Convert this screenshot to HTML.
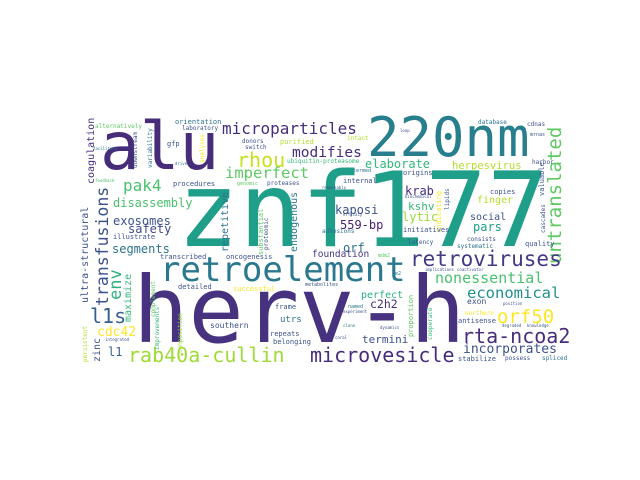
<!DOCTYPE html>
<html><head><meta charset="utf-8"><style>
html,body{margin:0;padding:0;background:#fff;width:640px;height:480px;overflow:hidden}
#c{position:relative;width:640px;height:480px}
#c span{position:absolute;font-family:"DejaVu Sans Mono","Liberation Mono",monospace;line-height:1;white-space:nowrap}
#c span.v{transform-origin:0 0;transform:rotate(-90deg)}
</style></head><body><div id="c">
<span style="left:177px;top:160px;font-size:103px;color:#1f9e89">znf177</span>
<span style="left:133px;top:265px;font-size:92px;color:#46327e">herv-h</span>
<span style="left:100px;top:114px;font-size:66px;color:#472c7a">alu</span>
<span style="left:367px;top:111px;font-size:54px;color:#277f8e">220nm</span>
<span style="left:160px;top:253px;font-size:34px;color:#2a788e">retroelement</span>
<span style="left:222px;top:121px;font-size:16px;color:#472d7b">microparticles</span>
<span style="left:237px;top:150px;font-size:20px;color:#c8e020">rhou</span>
<span style="left:292px;top:146px;font-size:14.5px;color:#472d7b">modifies</span>
<span style="left:225px;top:166px;font-size:15.5px;color:#5ec962">imperfect</span>
<span style="left:123px;top:178px;font-size:16px;color:#4ac16d">pak4</span>
<span style="left:173px;top:181px;font-size:7px;color:#3b528b">procedures</span>
<span class="v" style="left:87px;top:184px;font-size:10px;color:#472d7b">coagulation</span>
<span class="v" style="left:81px;top:303px;font-size:10px;color:#3b528b">ultra-structural</span>
<span class="v" style="left:95px;top:306px;font-size:16.5px;color:#3b528b">transfusions</span>
<span class="v" style="left:108px;top:300px;font-size:17px;color:#2db27d">env</span>
<span class="v" style="left:124px;top:322px;font-size:10px;color:#35b779">maximize</span>
<span style="left:113px;top:197px;font-size:12px;color:#4ac16d">disassembly</span>
<span style="left:113px;top:215px;font-size:12px;color:#3b528b">exosomes</span>
<span style="left:128px;top:223px;font-size:12px;color:#3e4a89">safety</span>
<span style="left:112px;top:243px;font-size:12px;color:#2c728e">segments</span>
<span style="left:90px;top:306px;font-size:20px;color:#355f8d">l1s</span>
<span style="left:97px;top:326px;font-size:13px;color:#fde725">cdc42</span>
<span class="v" style="left:93px;top:362px;font-size:10px;color:#3b528b">zinc</span>
<span style="left:108px;top:346px;font-size:12px;color:#355f8d">l1</span>
<span style="left:128px;top:345px;font-size:20px;color:#a0da39">rab40a-cullin</span>
<span class="v" style="left:221px;top:252px;font-size:10px;color:#2c728e">repetitive</span>
<span class="v" style="left:290px;top:252px;font-size:10px;color:#2a788e">endogenous</span>
<span class="v" style="left:258px;top:255px;font-size:7px;color:#5ec962">substantial</span>
<span class="v" style="left:264px;top:250px;font-size:6px;color:#3b528b">proteomic</span>
<span style="left:335px;top:204px;font-size:12px;color:#3b528b">kaposi</span>
<span style="left:340px;top:219px;font-size:12px;color:#482173">559-bp</span>
<span style="left:343px;top:242px;font-size:12px;color:#2c728e">orf</span>
<span style="left:312px;top:250px;font-size:9.5px;color:#443983">foundation</span>
<span style="left:226px;top:254px;font-size:7px;color:#3b528b">oncogenesis</span>
<span style="left:408px;top:201px;font-size:11px;color:#35b779">kshv</span>
<span style="left:405px;top:185px;font-size:12px;color:#472d7b">krab</span>
<span style="left:402px;top:211px;font-size:12px;color:#a0da39">lytic</span>
<span style="left:365px;top:158px;font-size:12px;color:#35b779">elaborate</span>
<span style="left:452px;top:161px;font-size:10.5px;color:#b5de2b">herpesvirus</span>
<span style="left:477px;top:196px;font-size:10px;color:#b5de2b">finger</span>
<span style="left:470px;top:213px;font-size:10px;color:#3b528b">social</span>
<span style="left:473px;top:221px;font-size:12px;color:#1f9e89">pars</span>
<span class="v" style="left:546px;top:264px;font-size:19px;color:#5ec962">untranslated</span>
<span style="left:410px;top:249px;font-size:21px;color:#443983">retroviruses</span>
<span style="left:435px;top:271px;font-size:15px;color:#4ac16d">nonessential</span>
<span style="left:467px;top:286px;font-size:15.5px;color:#21918c">economical</span>
<span style="left:361px;top:291px;font-size:10px;color:#2ab07f">perfect</span>
<span style="left:370px;top:299px;font-size:11.5px;color:#472d7b">c2h2</span>
<span style="left:467px;top:298px;font-size:8px;color:#3b528b">exon</span>
<span style="left:497px;top:308px;font-size:19px;color:#fde725">orf50</span>
<span style="left:458px;top:318px;font-size:7px;color:#3b528b">antisense</span>
<span style="left:465px;top:311px;font-size:6px;color:#fde725">northern</span>
<span style="left:362px;top:334px;font-size:11px;color:#3b528b">termini</span>
<span style="left:462px;top:326px;font-size:20px;color:#472d7b">rta-ncoa2</span>
<span style="left:310px;top:345px;font-size:20px;color:#472d7b">microvesicle</span>
<span style="left:463px;top:343px;font-size:13px;color:#3b528b">incorporates</span>
<span style="left:210px;top:322px;font-size:8px;color:#3b528b">southern</span>
<span style="left:280px;top:316px;font-size:9px;color:#2c728e">utrs</span>
<span style="left:275px;top:304px;font-size:7px;color:#3b528b">frame</span>
<span style="left:270px;top:331px;font-size:7px;color:#3b528b">repeats</span>
<span style="left:273px;top:339px;font-size:7px;color:#3b528b">belonging</span>
<span style="left:160px;top:254px;font-size:7px;color:#3b528b">transcribed</span>
<span style="left:178px;top:284px;font-size:7px;color:#3b528b">detailed</span>
<span style="left:233px;top:286px;font-size:7px;color:#fde725">successful</span>
<span class="v" style="left:151px;top:317px;font-size:6px;color:#5ec962">complement</span>
<span class="v" style="left:155px;top:350px;font-size:6px;color:#35b779">improvements</span>
<span class="v" style="left:178px;top:353px;font-size:6px;color:#a0da39">composition</span>
<span class="v" style="left:83px;top:362px;font-size:6px;color:#b5de2b">persistent</span>
<span style="left:105px;top:338px;font-size:4px;color:#3b528b">integrated</span>
<span style="left:95px;top:124px;font-size:6px;color:#5ec962">alternatively</span>
<span style="left:175px;top:119px;font-size:7px;color:#2c728e">orientation</span>
<span style="left:182px;top:126px;font-size:6px;color:#3b528b">laboratory</span>
<span class="v" style="left:133px;top:168px;font-size:6px;color:#3b528b">downstream</span>
<span class="v" style="left:148px;top:168px;font-size:6px;color:#2c728e">variability</span>
<span class="v" style="left:200px;top:163px;font-size:6px;color:#fde725">analyses</span>
<span style="left:167px;top:141px;font-size:7px;color:#3b528b">gfp</span>
<span style="left:242px;top:139px;font-size:6px;color:#3b528b">donors</span>
<span style="left:280px;top:139px;font-size:7px;color:#b5de2b">purified</span>
<span style="left:245px;top:145px;font-size:6px;color:#3b528b">switch</span>
<span style="left:287px;top:159px;font-size:6px;color:#35b779">ubiquitin-proteasome</span>
<span style="left:93px;top:147px;font-size:4px;color:#2c728e">facilitate</span>
<span style="left:95px;top:179px;font-size:4px;color:#4ac16d">feedback</span>
<span style="left:175px;top:162px;font-size:4px;color:#2c728e">drive</span>
<span style="left:237px;top:182px;font-size:5px;color:#5ec962">genomic</span>
<span style="left:267px;top:181px;font-size:6px;color:#3b528b">proteases</span>
<span style="left:113px;top:234px;font-size:7px;color:#3b528b">illustrate</span>
<span style="left:478px;top:120px;font-size:6px;color:#2c728e">database</span>
<span style="left:527px;top:122px;font-size:6px;color:#3b528b">cdnas</span>
<span style="left:400px;top:129px;font-size:4px;color:#3b528b">loop</span>
<span style="left:530px;top:133px;font-size:5px;color:#3b528b">mrnas</span>
<span style="left:347px;top:136px;font-size:6px;color:#b5de2b">intact</span>
<span style="left:532px;top:160px;font-size:6px;color:#3b528b">harbor</span>
<span style="left:353px;top:169px;font-size:5px;color:#2c728e">termed</span>
<span style="left:403px;top:170px;font-size:7px;color:#3b528b">origins</span>
<span style="left:343px;top:178px;font-size:7px;color:#3b528b">internal</span>
<span style="left:322px;top:186px;font-size:4px;color:#3b528b">remarkably</span>
<span style="left:405px;top:195px;font-size:4px;color:#3b528b">biochemical</span>
<span class="v" style="left:436px;top:233px;font-size:7px;color:#fde725">indicating</span>
<span class="v" style="left:445px;top:210px;font-size:6px;color:#3b528b">lipids</span>
<span style="left:490px;top:189px;font-size:7px;color:#3b528b">copies</span>
<span class="v" style="left:539px;top:196px;font-size:7px;color:#3b528b">valuable</span>
<span class="v" style="left:541px;top:233px;font-size:6px;color:#3b528b">cascades</span>
<span style="left:343px;top:213px;font-size:4px;color:#3b528b">efficacy</span>
<span style="left:322px;top:229px;font-size:6px;color:#2c728e">adhesions</span>
<span style="left:403px;top:227px;font-size:7px;color:#3b528b">initiatives</span>
<span style="left:467px;top:237px;font-size:6px;color:#3b528b">consists</span>
<span style="left:378px;top:254px;font-size:5px;color:#5ec962">mdm2</span>
<span style="left:408px;top:240px;font-size:6px;color:#3b528b">latency</span>
<span style="left:457px;top:244px;font-size:6px;color:#2c728e">systematic</span>
<span style="left:525px;top:241px;font-size:7px;color:#3b528b">quality</span>
<span style="left:425px;top:268px;font-size:4px;color:#3b528b">implications</span>
<span style="left:457px;top:268px;font-size:4px;color:#3b528b">coactivator</span>
<span style="left:395px;top:272px;font-size:5px;color:#2c728e">e2</span>
<span style="left:305px;top:283px;font-size:5px;color:#3b528b">metabolites</span>
<span style="left:348px;top:305px;font-size:5px;color:#2c728e">named</span>
<span style="left:343px;top:310px;font-size:4px;color:#3b528b">experiment</span>
<span class="v" style="left:408px;top:337px;font-size:7px;color:#5ec962">proportion</span>
<span class="v" style="left:428px;top:340px;font-size:6px;color:#35b779">cooperate</span>
<span style="left:503px;top:302px;font-size:4px;color:#3b528b">position</span>
<span style="left:502px;top:324px;font-size:4px;color:#3b528b">degraded</span>
<span style="left:527px;top:324px;font-size:4px;color:#3b528b">knowledge</span>
<span style="left:343px;top:324px;font-size:4px;color:#2c728e">clone</span>
<span style="left:380px;top:326px;font-size:4px;color:#3b528b">dynamics</span>
<span style="left:335px;top:336px;font-size:4px;color:#3b528b">coral</span>
<span style="left:458px;top:356px;font-size:7px;color:#3b528b">stabilize</span>
<span style="left:505px;top:356px;font-size:6px;color:#3b528b">possess</span>
<span style="left:542px;top:356px;font-size:6px;color:#2c728e">spliced</span>
</div></body></html>
